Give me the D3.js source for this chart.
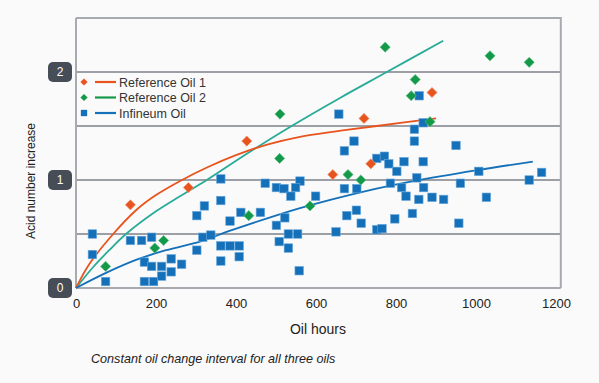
<!DOCTYPE html>
<html><head><meta charset="utf-8">
<script src="https://cdn.jsdelivr.net/npm/d3@7"></script>
<style>
html,body{margin:0;padding:0;background:#fafafa;}
svg{display:block;font-family:"Liberation Sans",Arial,sans-serif;}
</style></head>
<body><svg id="c" width="599" height="383"></svg>
<script>
// ---- data ----
const xTicks = [0, 200, 400, 600, 800, 1000, 1200];
const yBadgeTicks = [0, 1, 2];
const yGrid = [0.5, 1, 1.5, 2];
const seriesNames = ["Reference Oil 1", "Reference Oil 2", "Infineum Oil"];

const ref1Points = [[136,0.77],[281,0.93],[427,1.36],[642,1.05],[737,1.15],[720,1.57],[890,1.81]];
const ref2Points = [[74,0.20],[197,0.37],[219,0.44],[432,0.67],[509,1.20],[510,1.61],[585,0.76],
  [680,1.05],[712,1.00],[773,2.23],[838,1.78],[848,1.93],[885,1.54],[1035,2.15],[1133,2.09]];
const infPoints = [[41,0.50],[41,0.31],[74,0.06],[136,0.44],[164,0.44],[189,0.47],[171,0.24],[189,0.20],
  [171,0.06],[194,0.06],[214,0.20],[214,0.11],[238,0.27],[238,0.15],[264,0.22],[302,0.35],[302,0.67],
  [317,0.47],[321,0.76],[362,1.01],[362,0.81],[412,0.70],[385,0.62],[461,0.70],[337,0.49],[362,0.39],
  [385,0.39],[408,0.39],[408,0.29],[362,0.25],[473,0.97],[501,0.93],[520,0.92],[560,0.99],[549,0.93],
  [537,0.85],[599,0.85],[522,0.65],[501,0.58],[531,0.50],[554,0.50],[508,0.43],[531,0.37],[558,0.16],
  [657,1.61],[868,1.53],[846,1.47],[846,1.36],[695,1.36],[671,1.27],[752,1.20],[771,1.22],[782,1.15],
  [802,1.08],[820,1.17],[868,1.17],[852,1.02],[786,0.97],[814,0.93],[671,0.92],[702,0.92],[869,0.93],
  [825,0.85],[857,0.82],[890,0.84],[919,0.82],[701,0.72],[677,0.67],[713,0.60],[797,0.64],[841,0.69],
  [650,0.52],[752,0.54],[765,0.55],[950,1.32],[1007,1.08],[961,0.97],[1026,0.84],[957,0.60],
  [1133,1.00],[1164,1.07],[858,1.78]];

// trend curves
const ref1Curve = [[0,0],[33,0.22],[93,0.5],[150,0.72],[200,0.86],[265,1.0],[330,1.12],[400,1.23],
  [480,1.33],[560,1.40],[650,1.45],[752,1.50],[900,1.57]];
const ref2Curve = [[0,0],[42,0.19],[83,0.35],[125,0.5],[200,0.71],[260,0.85],[327,1.0],[430,1.25],
  [539,1.5],[660,1.76],[777,2.0],[918,2.29]];
const infCurve = [[0,0],[75,0.14],[150,0.26],[225,0.35],[310,0.43],[393,0.54],[560,0.74],[727,0.90],
  [843,0.99],[1000,1.09],[1142,1.17]];

// ---- styles ----
const cRed = "#e8541e", cGreen = "#14994a", cTeal = "#2aaa98", cBlue = "#1470b8";

const svg = d3.select("#c");
const x = d3.scaleLinear().domain([0, 1200]).range([76, 556]);
const y = d3.scaleLinear().domain([0, 2.5]).range([288, 18]);
const xMax = 1212;

// gridlines
svg.append("g").selectAll("line").data(yGrid).join("line")
  .attr("x1", x(0)).attr("x2", x(xMax))
  .attr("y1", d => y(d)).attr("y2", d => y(d))
  .attr("stroke", "#7c8189").attr("stroke-width", 1.3);

// frame
const frame = svg.append("g").attr("fill", "none").attr("stroke", "#a7aaaf").attr("stroke-width", 2);
frame.append("path").attr("d", `M${x(0)},${y(2.5)}H${x(xMax)}V${y(0)}`);
frame.append("line").attr("x1", x(0)).attr("x2", x(0)).attr("y1", y(2.5)).attr("y2", y(0));
frame.append("line").attr("x1", x(0)).attr("x2", x(xMax)).attr("y1", y(0)).attr("y2", y(0));

// x axis
const xAxis = svg.append("g").attr("transform", `translate(0,${y(0)})`)
  .call(d3.axisBottom(x).tickValues(xTicks).tickSize(0).tickPadding(11).tickFormat(d3.format("d")));
xAxis.select(".domain").remove();
xAxis.selectAll("text").attr("font-size", 13).attr("fill", "#222")
  .attr("font-family", "Liberation Sans, Arial, sans-serif");

// y badges
const badges = svg.append("g").selectAll("g").data(yBadgeTicks).join("g")
  .attr("transform", d => `translate(60,${y(d)})`);
badges.append("rect").attr("x", -12).attr("y", -10).attr("width", 24).attr("height", 20)
  .attr("rx", 5).attr("fill", "#464d57");
badges.append("text").attr("text-anchor", "middle").attr("dy", "0.36em")
  .attr("fill", "#fff").attr("font-size", 12).text(d => d);

// axis titles
svg.append("text").attr("x", 318).attr("y", 334).attr("text-anchor", "middle")
  .attr("font-size", 14).attr("fill", "#222").text("Oil hours");
svg.append("text").attr("transform", `translate(35,181) rotate(-90)`)
  .attr("text-anchor", "middle").attr("font-size", 12).attr("fill", "#222").text("Acid number increase");
svg.append("text").attr("x", 91).attr("y", 363).attr("font-size", 12.6).attr("font-style", "italic")
  .attr("fill", "#222").text("Constant oil change interval for all three oils");

// curves
const line = d3.line().x(d => x(d[0])).y(d => y(d[1])).curve(d3.curveCatmullRom.alpha(0.5));
const curves = svg.append("g").attr("fill", "none").attr("stroke-width", 1.8);
curves.append("path").datum(ref2Curve).attr("d", line).attr("stroke", cTeal);
curves.append("path").datum(ref1Curve).attr("d", line).attr("stroke", cRed);
curves.append("path").datum(infCurve).attr("d", line).attr("stroke", cBlue);

// markers
const sq = 8.5;
svg.append("g").selectAll("rect").data(infPoints).join("rect")
  .attr("x", d => x(d[0]) - sq/2).attr("y", d => y(d[1]) - sq/2)
  .attr("width", sq).attr("height", sq).attr("fill", cBlue)
  .attr("stroke", "#6aa8dc").attr("stroke-width", 0.6);
const diamond = d3.symbol().type(d3.symbolSquare).size(52);
svg.append("g").selectAll("path").data(ref2Points).join("path")
  .attr("d", diamond).attr("transform", d => `translate(${x(d[0])},${y(d[1])}) rotate(45)`)
  .attr("fill", cGreen).attr("stroke", "#5bbf80").attr("stroke-width", 0.6);
svg.append("g").selectAll("path").data(ref1Points).join("path")
  .attr("d", diamond).attr("transform", d => `translate(${x(d[0])},${y(d[1])}) rotate(45)`)
  .attr("fill", cRed).attr("stroke", "#f29a78").attr("stroke-width", 0.6);

// legend
const legColors = [cRed, cGreen, cBlue];
const leg = svg.append("g").selectAll("g").data(seriesNames).join("g")
  .attr("transform", (d, i) => `translate(84,${82 + i * 15.5})`);
leg.append("path").attr("d", (d, i) => i < 2 ? d3.symbol().type(d3.symbolSquare).size(26)() : d3.symbol().type(d3.symbolSquare).size(40)())
  .attr("transform", (d, i) => i < 2 ? "rotate(45)" : null)
  .attr("fill", (d, i) => legColors[i]);
leg.append("line").attr("x1", 11).attr("x2", 32).attr("stroke-width", 2.2)
  .attr("stroke", (d, i) => legColors[i]);
leg.append("text").attr("x", 35).attr("dy", "0.36em").attr("font-size", 12.5).attr("fill", "#333")
  .text(d => d);
</script></body></html>
